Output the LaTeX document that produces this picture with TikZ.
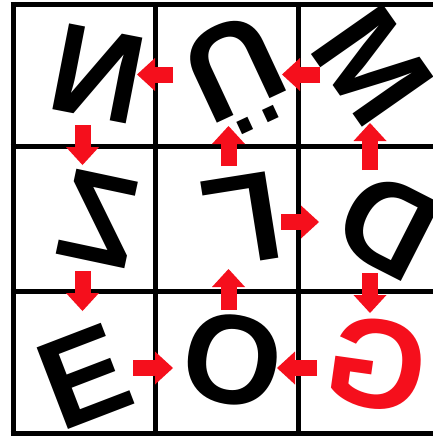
\documentclass[tikz,border=0pt]{standalone}
\usepackage{fontspec}
\setmainfont{Liberation Sans}
\usetikzlibrary{arrows.meta}
\definecolor{rojovivo}{HTML}{F50F1C}

\begin{document}
\begin{tikzpicture}[
  x=1pt, y=-1pt,
  letter/.style={font=\fontsize{127}{127}\selectfont\bfseries, inner sep=0pt},
  gridline/.style={black, line width=5pt},
  arr/.style={rojovivo, line width=16pt,
    -{Triangle[length=18pt, width=33pt, line width=0pt]}}
]
  \path[fill=white, use as bounding box] (0,0) rectangle (433,436);

  % grid
  \foreach \x in {13,155.5,298.5}
    \draw[gridline] (\x,2) -- (\x,436);
  \foreach \y in {4.5,146.5,291,433}
    \draw[gridline] (10.5,\y) -- (433,\y);

  % cell points for the arrows
  \coordinate (cN) at (82.5,74.5);
  \coordinate (cU) at (228.5,74.5);
  \coordinate (cM) at (370,74.5);
  \coordinate (cZ) at (82.5,222);
  \coordinate (cL) at (228.5,222);
  \coordinate (cD) at (370,222);
  \coordinate (cE) at (82.5,368);
  \coordinate (cO) at (228.5,368);
  \coordinate (cG) at (370,368);

  % letters
  \node[letter, rotate=-11, xscale=-1] (N) at (98,74) {N};
  \node[letter, rotate=205] (U) at (238,76) {Ü};
  \node[letter, rotate=-55] (M) at (373,66) {M};
  \node[letter, rotate=-12, xscale=-1] (Z) at (99.5,218.5) {Z};
  \node[letter, rotate=189] (L) at (242,220) {L};
  \node[letter, rotate=153] (D) at (388,226) {D};
  \node[letter, rotate=21] (E) at (84,377) {E};
  \node[letter, rotate=-10] (O) at (233,360) {O};
  \node[letter, rojovivo, rotate=-8, xscale=-1] (G) at (377,364) {G};

  \foreach \a/\b/\s/\t in {cM/cU/50pt/53.5pt, cU/cN/55.5pt/54.5pt,
      cN/cZ/50.5pt/57pt, cZ/cE/49pt/57pt, cE/cO/50.5pt/55.5pt,
      cG/cO/53pt/48.5pt, cO/cL/58pt/47pt, cL/cU/56pt/51.5pt,
      cL/cD/52.5pt/51pt, cD/cM/52pt/48.5pt, cD/cG/51pt/55pt}
    \draw[arr, shorten <=\s, shorten >=\t] (\a) -- (\b);
\end{tikzpicture}
\end{document}
